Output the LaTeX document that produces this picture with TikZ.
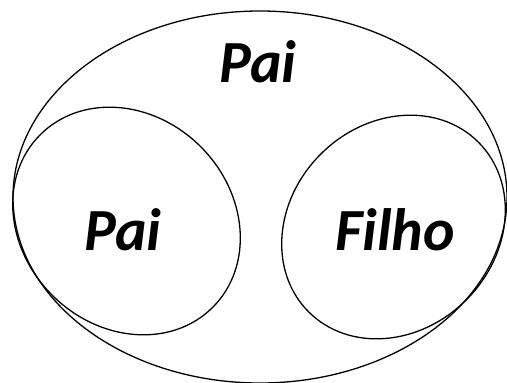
\documentclass[tikz,border=0pt]{standalone}
\usepackage{fontspec}
\setmainfont{Carlito}
\tikzset{
  ring/.style={draw, line width=1.3pt},
  word/.style={font=\fontsize{60}{70}\selectfont\bfseries\itshape, inner sep=0pt, anchor=base},
}

\begin{document}
\begin{tikzpicture}[x=1bp, y=1bp]
\useasboundingbox (0,0) rectangle (507,382);
% outer set and the two inner sets
\draw[ring] (260,185) ellipse [x radius=247, y radius=186];
\draw[ring, rotate around={-45:(126.5,161)}] (126.5,161) ellipse [x radius=122, y radius=105];
\draw[ring, rotate around={45:(393.5,155)}] (393.5,155) ellipse [x radius=120, y radius=103];

\node[word] (outer) at (258,300) {Pai};
\node[word] (left) at (123,132) {Pai};
\node[word] (right) at (395,132) {Filho};
\end{tikzpicture}
\end{document}
